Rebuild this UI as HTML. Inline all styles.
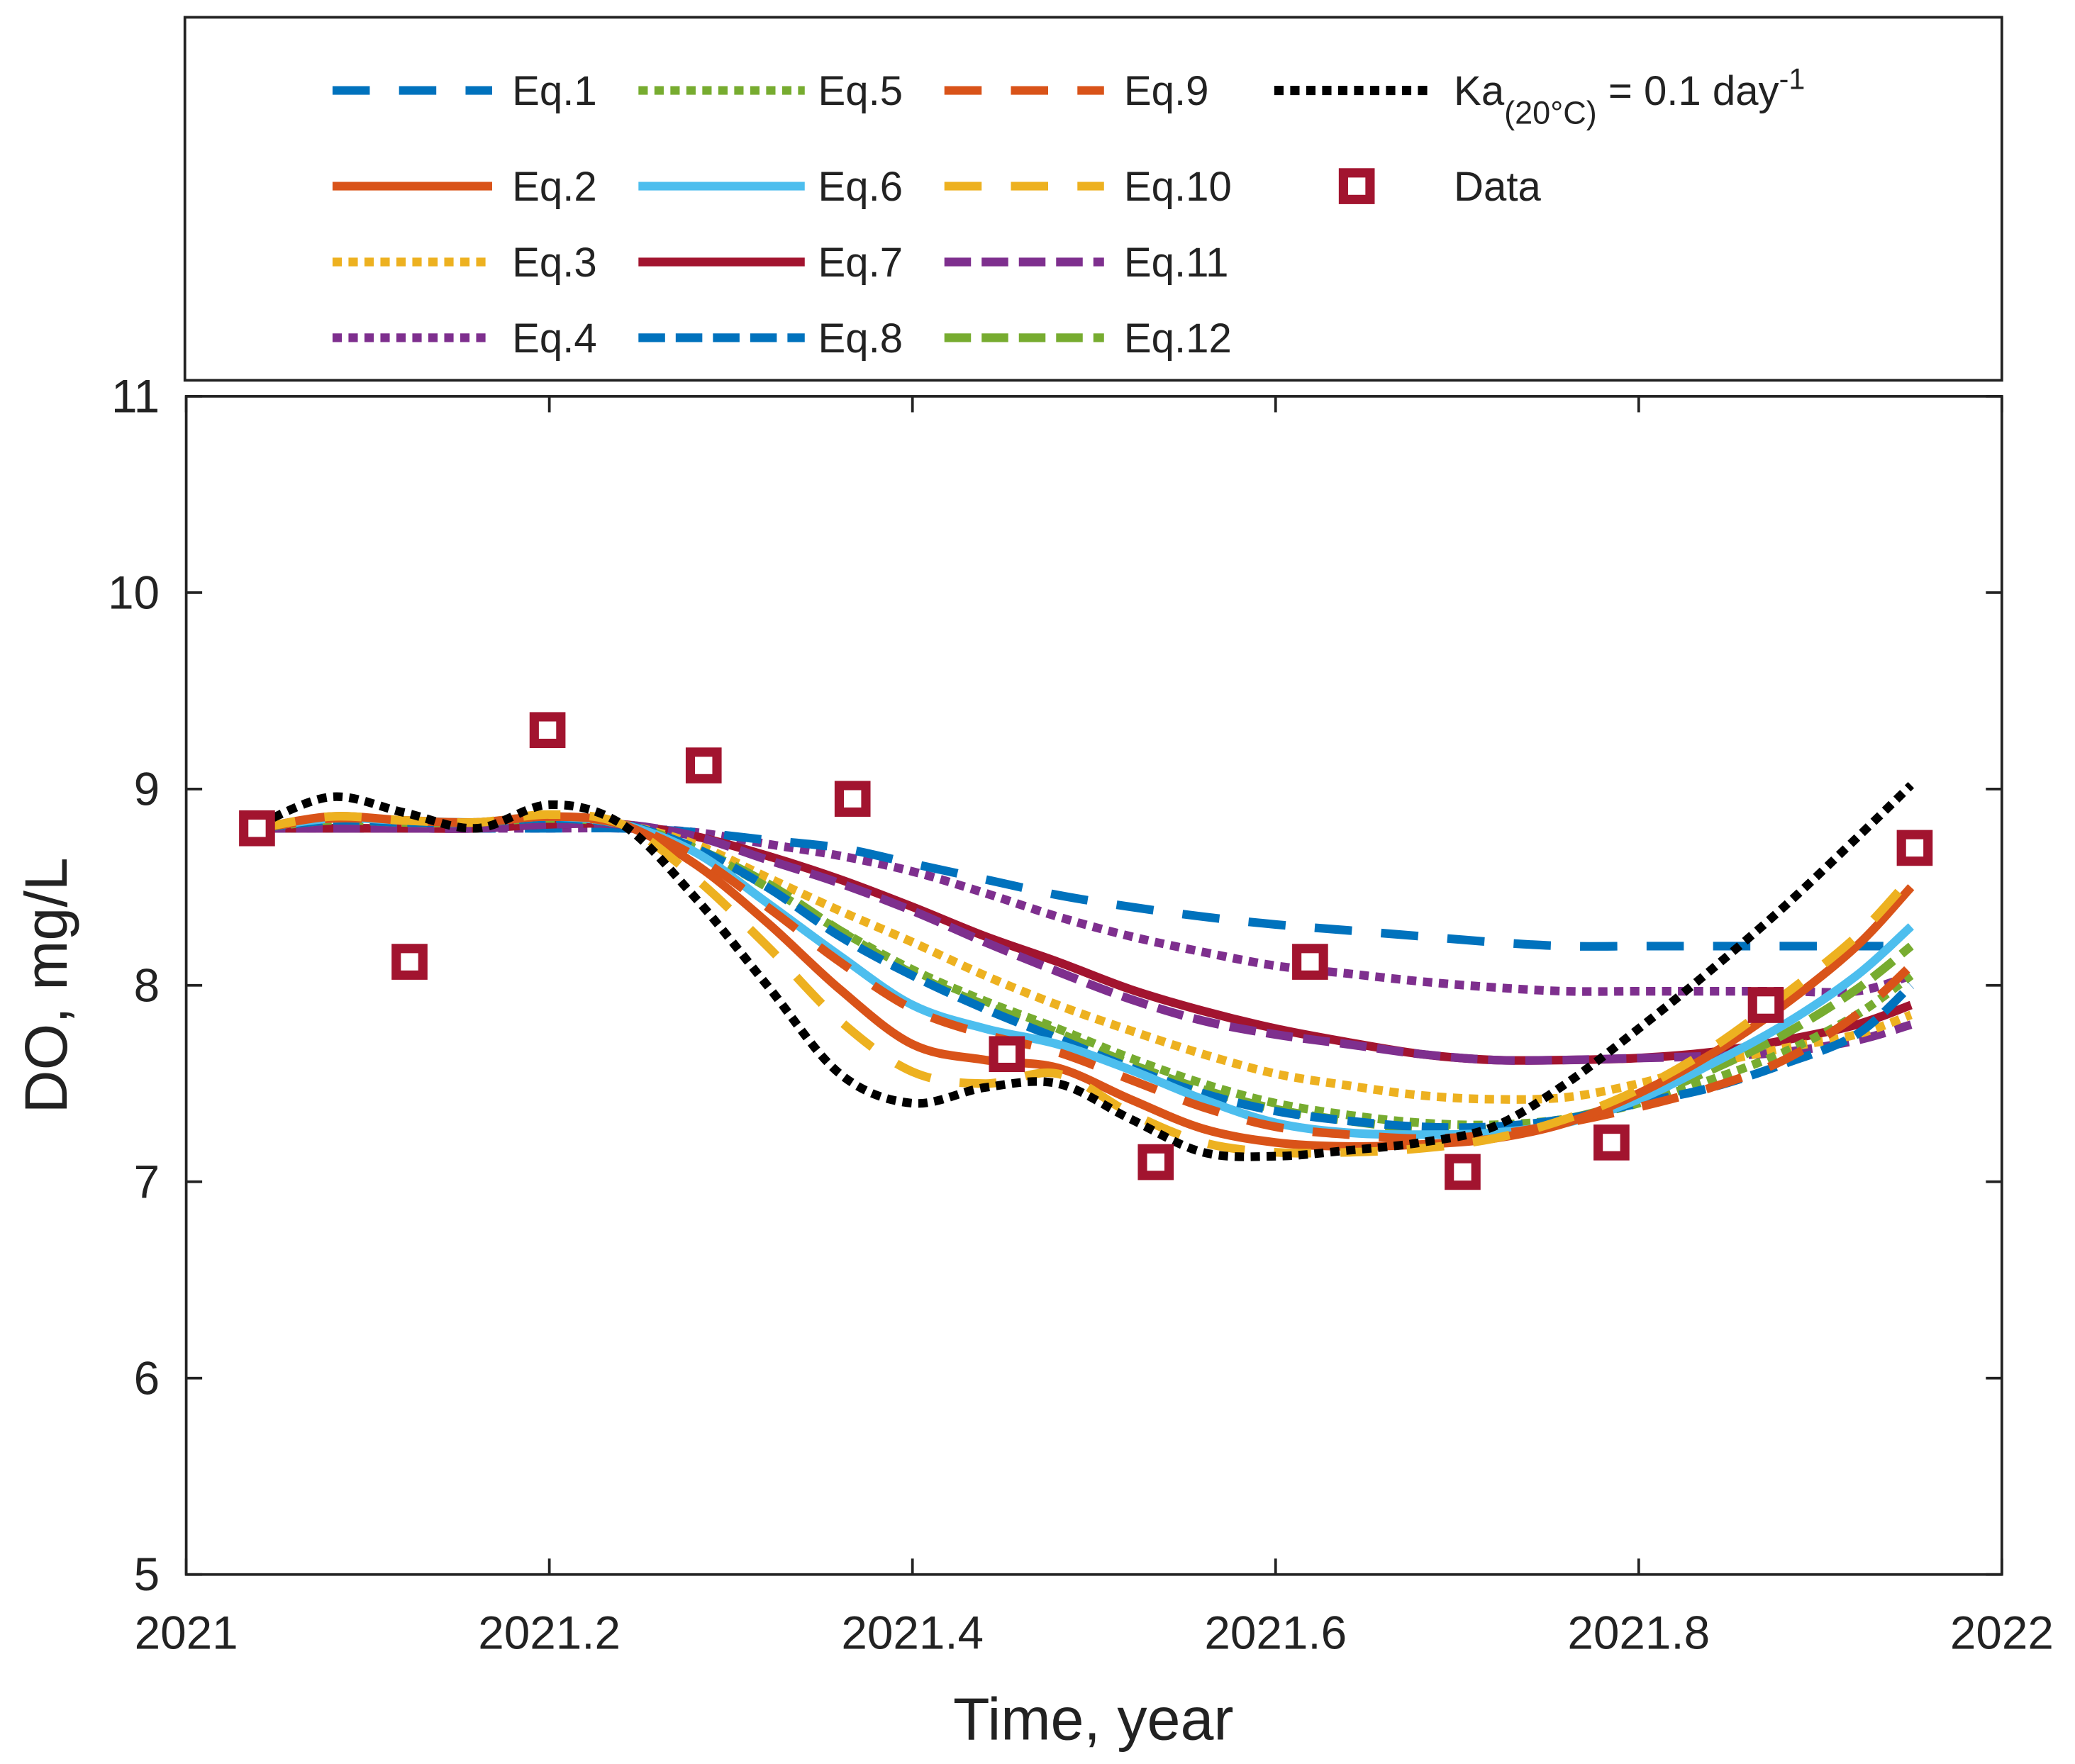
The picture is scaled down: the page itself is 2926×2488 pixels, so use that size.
<!DOCTYPE html>
<html><head><meta charset="utf-8"><style>html,body{margin:0;padding:0;background:#fff}svg{display:block}text{font-family:"Liberation Sans",Arial,sans-serif;fill:#222}</style></head>
<body>
<svg id="chart" width="2926" height="2488" viewBox="0 0 1560 1326.5" preserveAspectRatio="none" xmlns="http://www.w3.org/2000/svg">
<rect x="0" y="0" width="1560" height="1327" fill="#fff"/>
<rect x="139" y="13" width="1366" height="273" fill="none" stroke="#222" stroke-width="2"/>
<g id="legend"></g>
<rect x="140" y="298" width="1365" height="886" fill="none" stroke="#222" stroke-width="2"/>
<g id="ticks"></g>
<g id="series"></g>
<g id="markers"></g>
<text x="822" y="1308" font-size="45" text-anchor="middle">Time, year</text>
<text transform="translate(50,741) rotate(-90)" font-size="45" text-anchor="middle">DO, mg/L</text>
</svg>
<script>
const xGrid=[2021.04,2021.08,2021.12,2021.16,2021.2,2021.24,2021.28,2021.32,2021.36,2021.40,2021.44,2021.48,2021.52,2021.56,2021.60,2021.64,2021.68,2021.72,2021.76,2021.80,2021.84,2021.88,2021.92,2021.95];
const eq1=[8.8,8.8,8.8,8.8,8.8,8.8,8.78,8.74,8.7,8.62,8.54,8.46,8.4,8.35,8.31,8.28,8.25,8.22,8.2,8.2,8.2,8.2,8.2,8.2];
const eq2=[8.8,8.86,8.84,8.83,8.86,8.82,8.62,8.32,7.98,7.7,7.62,7.58,7.42,7.27,7.2,7.18,7.19,7.22,7.3,7.45,7.65,7.9,8.2,8.5];
const eq3=[8.8,8.85,8.83,8.83,8.86,8.82,8.72,8.55,8.38,8.22,8.05,7.9,7.77,7.65,7.55,7.49,7.44,7.42,7.43,7.5,7.6,7.68,7.75,7.85];
const eq4=[8.8,8.8,8.8,8.8,8.8,8.8,8.78,8.72,8.66,8.58,8.47,8.35,8.25,8.17,8.1,8.06,8.02,7.99,7.97,7.97,7.97,7.97,7.97,8.05];
const eq5=[8.8,8.84,8.83,8.83,8.85,8.82,8.7,8.5,8.28,8.08,7.92,7.78,7.63,7.5,7.4,7.34,7.3,7.29,7.32,7.4,7.52,7.66,7.85,8.05];
const eq6=[8.8,8.85,8.84,8.83,8.86,8.82,8.68,8.42,8.15,7.9,7.78,7.7,7.57,7.42,7.3,7.25,7.24,7.25,7.3,7.42,7.6,7.8,8.05,8.3];
const eq7=[8.8,8.8,8.8,8.8,8.82,8.82,8.76,8.66,8.54,8.4,8.25,8.12,7.98,7.87,7.78,7.71,7.65,7.62,7.62,7.63,7.66,7.72,7.8,7.9];
const eq8=[8.8,8.84,8.83,8.83,8.85,8.82,8.7,8.5,8.25,8.05,7.88,7.73,7.58,7.45,7.36,7.31,7.28,7.28,7.32,7.4,7.48,7.6,7.75,8.0];
const eq9=[8.8,8.85,8.84,8.83,8.86,8.82,8.66,8.4,8.12,7.88,7.75,7.66,7.52,7.38,7.28,7.24,7.22,7.24,7.3,7.38,7.48,7.62,7.85,8.1];
const eq10=[8.8,8.86,8.84,8.83,8.87,8.82,8.55,8.2,7.82,7.56,7.5,7.55,7.35,7.2,7.15,7.15,7.17,7.22,7.32,7.47,7.68,7.95,8.25,8.55];
const eq11=[8.8,8.8,8.8,8.8,8.82,8.82,8.76,8.64,8.52,8.38,8.22,8.07,7.93,7.82,7.75,7.7,7.65,7.62,7.62,7.63,7.64,7.66,7.72,7.8];
const eq12=[8.8,8.84,8.83,8.83,8.85,8.82,8.7,8.52,8.28,8.06,7.9,7.76,7.6,7.47,7.37,7.31,7.27,7.27,7.32,7.42,7.57,7.75,7.98,8.2];
const kaLine=[8.82,8.96,8.88,8.8,8.92,8.82,8.45,8.0,7.55,7.4,7.48,7.5,7.32,7.15,7.13,7.16,7.2,7.28,7.5,7.78,8.08,8.4,8.75,9.02];
const dataX=[2021.039,2021.123,2021.199,2021.285,2021.367,2021.452,2021.534,2021.619,2021.703,2021.785,2021.870,2021.952];
const dataY=[8.8,8.12,9.3,9.12,8.95,7.65,7.1,8.12,7.05,7.2,7.9,8.7];
const xTicks=[2021,2021.2,2021.4,2021.6,2021.8,2022];
const xTickLabels=["2021","2021.2","2021.4","2021.6","2021.8","2022"];
const yTicks=[5,6,7,8,9,10,11];

const NS="http://www.w3.org/2000/svg";
const X=v=>140+(v-2021)*1365;
const Y=v=>1184-(v-5)*147.67;
function mk(tag,attrs,parent){const e=document.createElementNS(NS,tag);for(const k in attrs)e.setAttribute(k,attrs[k]);parent.appendChild(e);return e;}
const tk=document.getElementById('ticks');
xTicks.forEach((t,i)=>{
  const x=X(t);
  mk('path',{d:`M${x},1184v-12M${x},298v12`,stroke:'#222','stroke-width':2},tk);
  const tx=mk('text',{x:x,y:1240,'font-size':35,'text-anchor':'middle'},tk);
  tx.textContent=xTickLabels[i];
  
  
});
yTicks.forEach(t=>{
  const y=Y(t);
  mk('path',{d:`M140,${y}h12M1505,${y}h-12`,stroke:'#222','stroke-width':2},tk);
  const tx=mk('text',{x:120,y:y+12,'font-size':35,'text-anchor':'end'},tk);
  tx.textContent=String(t);
  
  
});
function smooth(xs,ys){
  const p=xs.map((x,i)=>[X(x),Y(ys[i])]);
  let d=`M${p[0][0]},${p[0][1]}`;
  for(let i=0;i<p.length-1;i++){
    const p0=p[Math.max(0,i-1)],p1=p[i],p2=p[i+1],p3=p[Math.min(p.length-1,i+2)];
    const c1=[p1[0]+(p2[0]-p0[0])/6,p1[1]+(p2[1]-p0[1])/6];
    const c2=[p2[0]-(p3[0]-p1[0])/6,p2[1]-(p3[1]-p1[1])/6];
    d+=`C${c1[0]},${c1[1]} ${c2[0]},${c2[1]} ${p2[0]},${p2[1]}`;
  }
  return d;
}
const styles={
 eq1:{c:'#0072BD',dash:'28,22',lab:'Eq.1'},
 eq2:{c:'#D95319',dash:'',lab:'Eq.2'},
 eq3:{c:'#EDB120',dash:'7,5',lab:'Eq.3'},
 eq4:{c:'#7E2F8E',dash:'7,5',lab:'Eq.4'},
 eq5:{c:'#77AC30',dash:'7,5',lab:'Eq.5'},
 eq6:{c:'#4DBEEE',dash:'',lab:'Eq.6'},
 eq7:{c:'#A2142F',dash:'',lab:'Eq.7'},
 eq8:{c:'#0072BD',dash:'20,8',lab:'Eq.8'},
 eq9:{c:'#D95319',dash:'28,22',lab:'Eq.9'},
 eq10:{c:'#EDB120',dash:'28,22',lab:'Eq.10'},
 eq11:{c:'#7E2F8E',dash:'20,8',lab:'Eq.11'},
 eq12:{c:'#77AC30',dash:'20,8',lab:'Eq.12'},
 ka:{c:'#000',dash:'7,5',lab:''}
};
const seriesData={eq4:eq4,eq1:eq1,eq7:eq7,eq11:eq11,eq3:eq3,eq5:eq5,eq12:eq12,eq8:eq8,eq6:eq6,eq9:eq9,eq2:eq2,eq10:eq10,ka:kaLine};
const sg=document.getElementById('series');
for(const k in seriesData){
  const s=styles[k];
  const p=mk('path',{d:smooth(xGrid,seriesData[k]),fill:'none',stroke:s.c,'stroke-width':6.5,'stroke-dasharray':s.dash},sg);
  
  
}
const mg=document.getElementById('markers');
dataX.forEach((x,i)=>{
  const r=mk('rect',{x:X(x)-10,y:Y(dataY[i])-10,width:20,height:20,fill:'#fff',stroke:'#A2142F','stroke-width':7},mg);
  
  
});
const lg=document.getElementById('legend');
const rows=[68,140,197,254];
const cols=[[250,370,385],[480,605,615],[710,830,845]];
const order=[['eq1','eq5','eq9'],['eq2','eq6','eq10'],['eq3','eq7','eq11'],['eq4','eq8','eq12']];
order.forEach((row,ri)=>{row.forEach((k,ci)=>{
  const s=styles[k],y=rows[ri],c=cols[ci];
  const l=mk('line',{x1:c[0],y1:y,x2:c[1],y2:y,stroke:s.c,'stroke-width':6.5,'stroke-dasharray':s.dash},lg);
  
  
  const t=mk('text',{x:c[2],y:y+11,'font-size':31},lg);
  t.textContent=s.lab;
  
  
});});
const kl=mk('line',{x1:958,y1:68,x2:1075,y2:68,stroke:'#000','stroke-width':7,'stroke-dasharray':'7,5'},lg);


const kt=mk('text',{x:1093,y:79,'font-size':31},lg);
kt.innerHTML='Ka<tspan dy="14" font-size="24">(20°C)</tspan><tspan dy="-14"> = 0.1 day</tspan><tspan dy="-12" font-size="22">-1</tspan>';


const dm=mk('rect',{x:1010,y:130,width:20,height:20,fill:'#fff',stroke:'#A2142F','stroke-width':7},lg);


const dt=mk('text',{x:1093,y:151,'font-size':31},lg);
dt.textContent='Data';


</script>
</body></html>
